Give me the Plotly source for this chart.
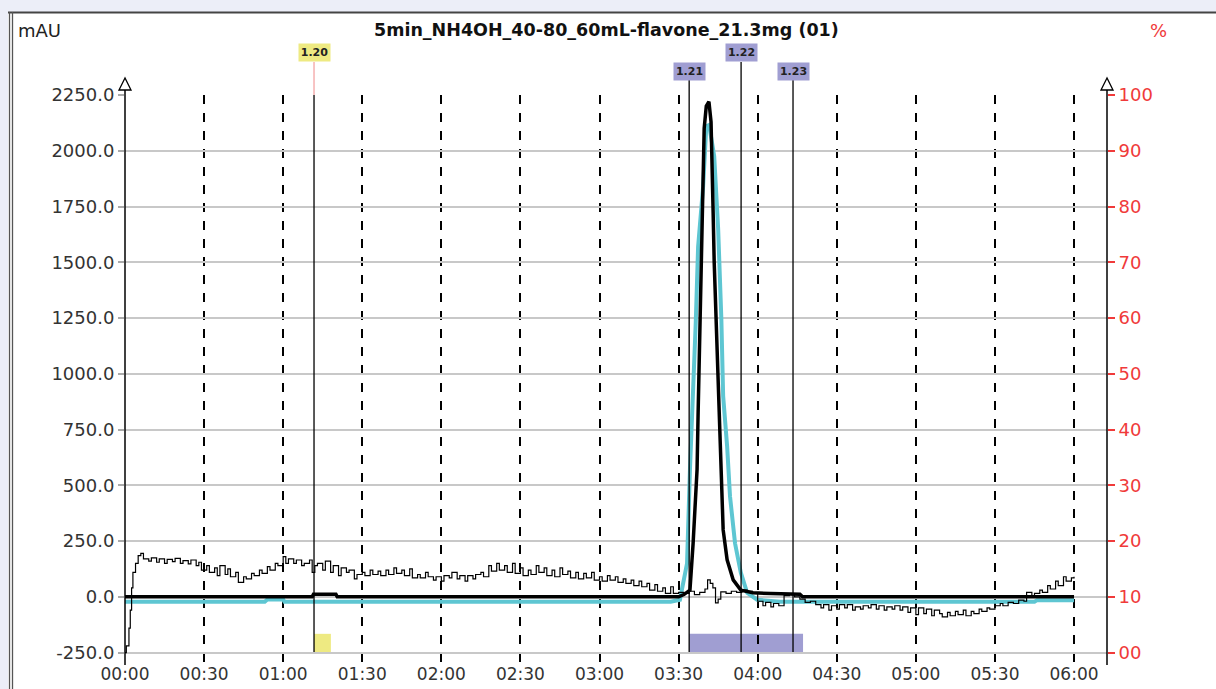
import plotly.graph_objects as go

# ---------------- data (time in seconds, signal in mAU) ----------------
main_t = [0, 71, 71.5, 80, 80.5, 210, 212, 214.3, 215.5, 217, 217.4, 218.1, 218.5, 219.0, 219.7,
          220.5, 221.5, 222.3, 222.6, 223.1, 223.5, 224.3, 225, 226.2, 226.9, 228.4, 230.7,
          233.6, 238.2, 245, 256, 257, 360]
main_v = [0, 0, 12, 12, 0, 0, 10, 30, 240, 570, 825, 1200, 1500, 1800, 2100,
          2200, 2220, 2130, 1870, 1720, 1500, 1230, 900, 600, 300, 166, 76,
          30, 18, 15, 12, 0, 0]

cyan_t = [0, 53, 54, 60, 60.5, 207, 210.5, 213.2, 214.3, 215.5, 216.5, 217.4, 219.3, 220.5,
          221.6, 223.5, 225, 226.2, 226.9, 228.4, 229.5, 231.4, 233.6, 236, 239.8, 248.5,
          345, 346, 360]
cyan_v = [-22, -22, -12, -12, -22, -22, -13, 150, 570, 900, 1230, 1570, 1840, 2110,
          2115, 1975, 1650, 1250, 900, 675, 450, 240, 108, 18, -13, -22,
          -22, -15, -15]

noisy_t = [0, 0.5, 1.5, 2, 2.5, 3, 4, 5, 6, 7, 9, 10, 12, 13, 15, 16, 18, 19, 21, 22, 24, 25, 27, 28,
           29, 31, 32, 34, 35, 36, 38, 39, 40, 42, 43, 45, 46, 48, 49, 51, 52, 54, 55, 57, 58, 60,
           61, 62, 64, 65, 67, 68, 70, 71, 72, 73, 75, 76, 78, 79, 81, 82, 84, 85, 87, 88, 90, 91,
           93, 94, 96, 97, 99, 100, 102, 103, 105, 106, 108, 109, 111, 112, 114, 115, 117, 118,
           120, 121, 123, 124, 126, 127, 129, 130, 132, 133, 135, 136, 138, 139, 141, 142, 144,
           145, 147, 148, 150, 151, 153, 154, 156, 157, 159, 160, 162, 163, 165, 166, 168, 169,
           171, 172, 174, 175, 177, 178, 180, 181, 183, 184, 186, 187, 189, 190, 192, 193, 195,
           196, 198, 199, 201, 202, 204, 205, 207, 208, 210, 212, 214, 216, 218, 220, 221, 222,
           223, 224, 225, 226, 228, 230, 232, 234, 236, 238, 240, 242, 243, 245, 246, 248, 250,
           252, 254, 256, 258, 260, 262, 264, 265, 267, 268, 270, 271, 273, 274, 276, 277, 279,
           280, 282, 283, 285, 286, 288, 289, 291, 292, 294, 295, 297, 298, 300, 301, 303, 304,
           306, 307, 309, 310, 312, 313, 315, 316, 318, 319, 321, 322, 324, 325, 327, 328, 330,
           332, 333, 335, 337, 339, 341, 342, 344, 345, 347, 348, 350, 351, 353, 354, 356, 357,
           359, 360]
noisy_v = [-250, -220, -140, -60, 40, 110, 150, 185, 195, 170, 160, 175, 155, 170, 150, 168, 158, 172,
           150, 162, 148, 165, 140, 155, 120, 140, 110, 130, 95, 140, 100, 125, 90, 110, 65, 90, 80,
           105, 95, 120, 105, 135, 120, 150, 140, 180, 150, 170, 150, 165, 140, 150, 165, 110, 140,
           150, 120, 160, 110, 140, 95, 130, 110, 120, 80, 100, 110, 95, 120, 100, 115, 95, 120, 100,
           130, 105, 120, 95, 125, 85, 100, 85, 110, 90, 75, 90, 70, 95, 85, 110, 80, 95, 70, 95, 80,
           100, 110, 90, 140, 115, 150, 120, 140, 110, 150, 105, 130, 95, 120, 100, 140, 110, 130,
           95, 120, 90, 130, 100, 115, 85, 110, 80, 105, 85, 110, 75, 90, 70, 95, 75, 90, 65, 80, 60,
           75, 50, 70, 45, 60, 30, 55, 25, 40, 15, 45, 15, 20, 15, 25, 10, 20, 35, 76, 60, 40, -27,
           -10, 22, 15, 25, 20, 30, 25, 15, -20, -40, -25, -45, -30, -40, 5, 10, 0, -10, -25, -20,
           -35, -50, -35, -60, -40, -55, -35, -50, -35, -60, -45, -55, -40, -50, -35, -55, -40, -60,
           -45, -55, -40, -60, -45, -70, -50, -80, -50, -75, -55, -85, -60, -75, -90, -70, -85, -65,
           -80, -60, -85, -65, -75, -55, -65, -50, -55, -40, -30, -40, -25, -30, -15, -20, 20, 5, 15,
           30, 20, 50, 35, 70, 50, 90, 70, 85, 90]

x_tickvals = [0, 30, 60, 90, 120, 150, 180, 210, 240, 270, 300, 330, 360]
x_ticktext = ["00:00", "00:30", "01:00", "01:30", "02:00", "02:30", "03:00", "03:30",
              "04:00", "04:30", "05:00", "05:30", "06:00"]
y_tickvals = [-250, 0, 250, 500, 750, 1000, 1250, 1500, 1750, 2000, 2250]
y_ticktext = ["-250.0", "0.0", "250.0", "500.0", "750.0", "1000.0", "1250.0", "1500.0",
              "1750.0", "2000.0", "2250.0"]
y2_tickvals = [0, 10, 20, 30, 40, 50, 60, 70, 80, 90, 100]
y2_ticktext = ["00", "10", "20", "30", "40", "50", "60", "70", "80", "90", "100"]

frac_labels = ["1.20", "1.21", "1.22", "1.23"]
frac_times = [71.7, 214.0, 233.7, 253.4]
frac_colors = ["#eeea82", "#a09ed2", "#a09ed2", "#a09ed2"]
frac_label_top = [True, False, True, False]
collect_start = [71.7, 214.0]
collect_end = [78.1, 257.2]
collect_colors = ["#eeea82", "#a09ed2"]

title_text = "5min_NH4OH_40-80_60mL-flavone_21.3mg (01)"

# ---------------- geometry ----------------
W, H = 1216, 689
L, R, T, B = 125, 109, 95, 27
PW, PH = W - L - R, H - T - B
XMAX = 372.5
YMIN, YMAX = -292.3, 2250
FONT = "DejaVu Sans"


def px_x(p):
    return (p - L) / PW


def px_y(p):
    return 1 - (p - T) / PH


fig = go.Figure()
fig.add_trace(go.Scatter(x=cyan_t, y=cyan_v, mode="lines",
                         line=dict(color="#5ec6d2", width=4), hoverinfo="skip"))
fig.add_trace(go.Scatter(x=main_t, y=main_v, mode="lines",
                         line=dict(color="#000000", width=3.5), hoverinfo="skip"))
fig.add_trace(go.Scatter(x=noisy_t, y=noisy_v, mode="lines", line_shape="hv",
                         line=dict(color="#000000", width=1.2), hoverinfo="skip"))
fig.add_trace(go.Scatter(x=[0], y=[None], yaxis="y2", mode="lines",
                         line=dict(width=0), hoverinfo="skip"))

shapes = []
# frame / background bands
shapes.append(dict(type="rect", xref="paper", yref="paper", x0=px_x(0), x1=px_x(W),
                   y0=px_y(12), y1=px_y(0), fillcolor="#eceef8", line_width=0, layer="below"))
shapes.append(dict(type="rect", xref="paper", yref="paper", x0=px_x(0), x1=px_x(8),
                   y0=px_y(H), y1=px_y(0), fillcolor="#eceef8", line_width=0, layer="below"))
shapes.append(dict(type="line", xref="paper", yref="paper", x0=px_x(8), x1=px_x(W),
                   y0=px_y(12.5), y1=px_y(12.5), line=dict(color="#444444", width=2)))
for xx in (9.5, 12.5):
    shapes.append(dict(type="line", xref="paper", yref="paper", x0=px_x(xx), x1=px_x(xx),
                       y0=px_y(12), y1=px_y(H), line=dict(color="#555555", width=1.3)))

# collection rectangles
for s, e, c in zip(collect_start, collect_end, collect_colors):
    shapes.append(dict(type="rect", xref="x", yref="y", x0=s, x1=e, y0=-250, y1=-166,
                       fillcolor=c, line_width=0, layer="below"))

# fraction lines
for lab, t, top in zip(frac_labels, frac_times, frac_label_top):
    ytop = 62 if top else 80
    if lab == "1.20":
        shapes.append(dict(type="line", xref="x", yref="paper", x0=t, x1=t,
                           y0=px_y(95), y1=px_y(ytop), line=dict(color="#f4a4a4", width=1.3)))
        shapes.append(dict(type="line", xref="x", yref="paper", x0=t, x1=t,
                           y0=px_y(652), y1=px_y(95), line=dict(color="#000000", width=1.3)))
    else:
        shapes.append(dict(type="line", xref="x", yref="paper", x0=t, x1=t,
                           y0=px_y(652), y1=px_y(ytop), line=dict(color="#000000", width=1.3)))

# axis arrows and extensions
for ax_x in (125, 1107):
    shapes.append(dict(type="line", xref="paper", yref="paper", x0=px_x(ax_x), x1=px_x(ax_x),
                       y0=px_y(665), y1=px_y(89), line=dict(color="#000000", width=1.5)))
    path = "M {:.5f},{:.5f} L {:.5f},{:.5f} L {:.5f},{:.5f} Z".format(
        px_x(ax_x), px_y(78), px_x(ax_x - 6), px_y(90), px_x(ax_x + 6), px_y(90))
    shapes.append(dict(type="path", xref="paper", yref="paper", path=path,
                       fillcolor="#ffffff", line=dict(color="#000000", width=1.3)))

annotations = []
annotations.append(dict(text=title_text, xref="paper", yref="paper", x=px_x(606), y=px_y(30),
                        showarrow=False, xanchor="center", yanchor="middle",
                        font=dict(family=FONT, size=17.5, color="#111111", weight="bold")))
annotations.append(dict(text="mAU", xref="paper", yref="paper", x=px_x(16), y=px_y(30),
                        showarrow=False, xanchor="left", yanchor="middle",
                        font=dict(family=FONT, size=18, color="#222222")))
annotations.append(dict(text="%", xref="paper", yref="paper", x=px_x(1158), y=px_y(30),
                        showarrow=False, xanchor="center", yanchor="middle",
                        font=dict(family=FONT, size=18, color="#f03a3a")))
for lab, t, top, c in zip(frac_labels, frac_times, frac_label_top, frac_colors):
    yc = 52.5 if top else 71
    annotations.append(dict(text="<b>" + lab + "</b>", xref="x", yref="paper", x=t, y=px_y(yc),
                            showarrow=False, xanchor="center", yanchor="middle",
                            bgcolor=c, width=31, height=17, borderpad=0,
                            font=dict(family=FONT, size=11, color="#222222")))

fig.update_layout(
    width=W, height=H,
    margin=dict(l=L, r=R, t=T, b=B, pad=0, autoexpand=False),
    paper_bgcolor="#ffffff", plot_bgcolor="#ffffff",
    showlegend=False,
    shapes=shapes, annotations=annotations,
    font=dict(family=FONT, size=18, color="#333333"),
    xaxis=dict(range=[0, XMAX], tickvals=x_tickvals, ticktext=x_ticktext, automargin=False,
               showgrid=True, gridcolor="#000000", gridwidth=1.5, griddash="dash",
               zeroline=False, showline=False, ticks="", ticklen=0,
               tickfont=dict(family=FONT, size=17, color="#333333")),
    yaxis=dict(range=[YMIN, YMAX], tickvals=y_tickvals, ticktext=y_ticktext, automargin=False,
               showgrid=True, gridcolor="#c8c8c8", gridwidth=2, zeroline=False,
               showline=False, ticks="outside", ticklen=6, tickcolor="#aaaaaa", tickwidth=1.5,
               tickfont=dict(family=FONT, size=18, color="#333333")),
    yaxis2=dict(range=[(YMIN + 250) / 25, 100], overlaying="y", side="right", automargin=False,
                tickvals=y2_tickvals, ticktext=y2_ticktext, showgrid=False, zeroline=False,
                showline=False, ticks="outside", ticklen=7, tickcolor="#f03a3a", tickwidth=1.5,
                tickfont=dict(family=FONT, size=18, color="#f03a3a")),
)

fig.write_html("out.html", config={"displayModeBar": False},
               post_script="document.body.style.margin='0px';")
